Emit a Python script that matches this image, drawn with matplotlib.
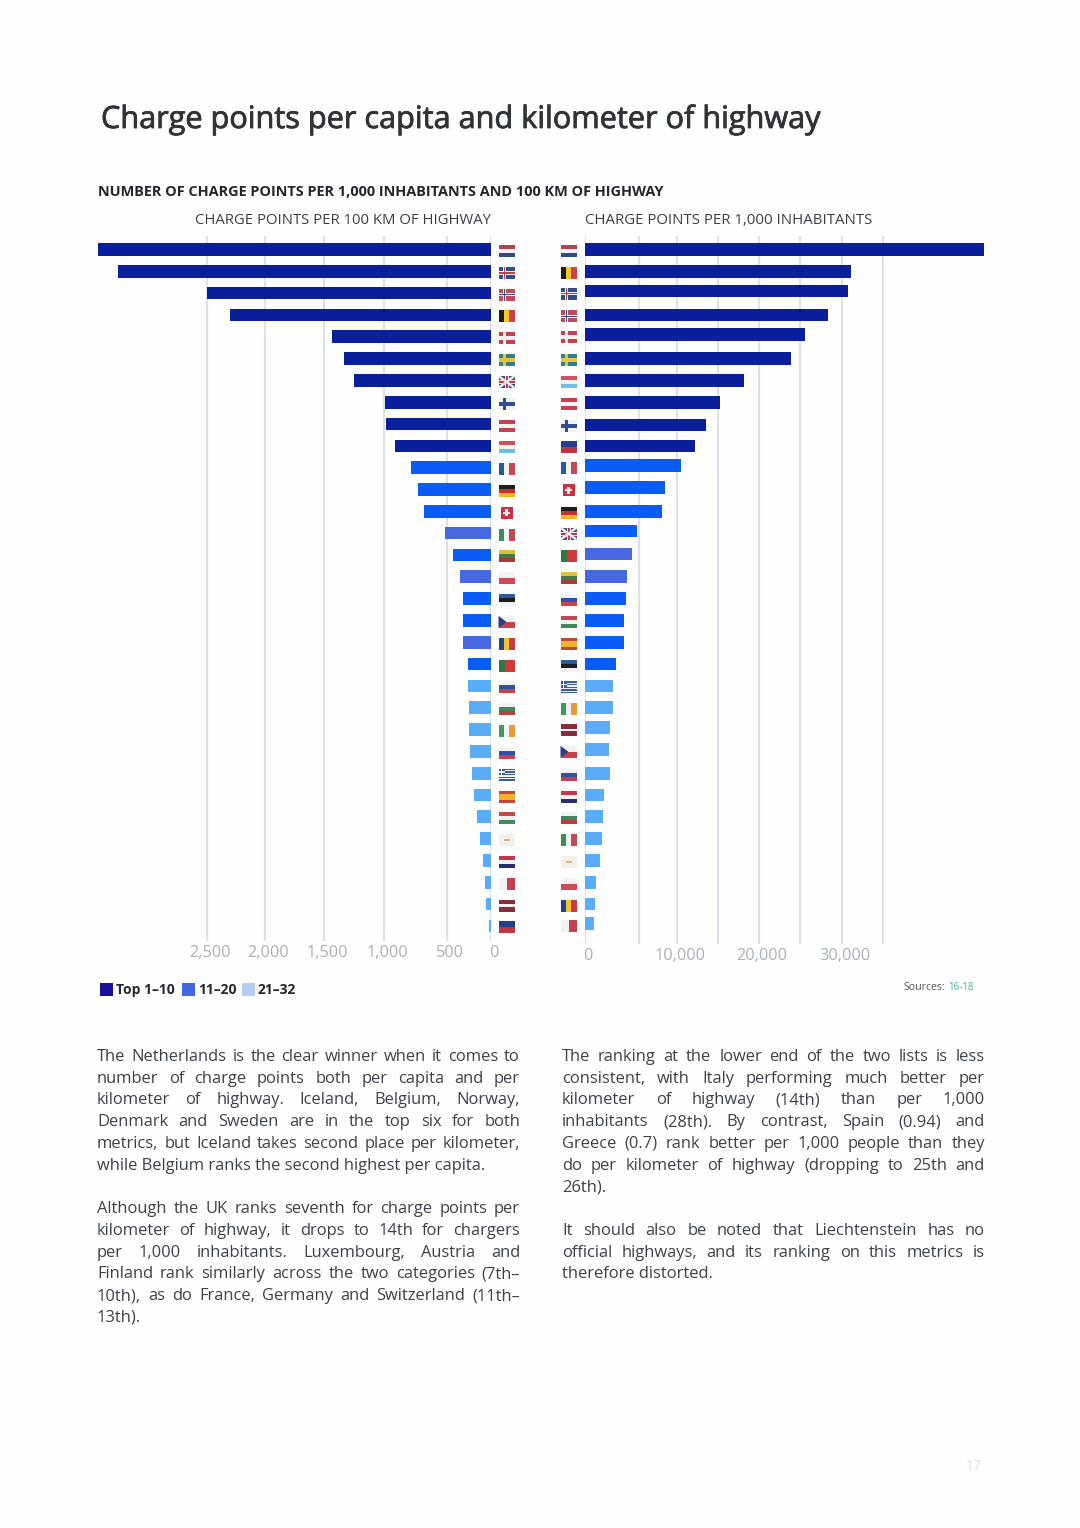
# charge points per 100 km of highway / per 1,000 inhabitants, mirrored bars with flags

import numpy as np
import matplotlib
matplotlib.use('Agg')
import matplotlib.pyplot as plt
import matplotlib.patheffects as pe
from matplotlib.patches import Rectangle
from matplotlib.transforms import ScaledTranslation

plt.rcParams['font.family'] = ['Open Sans', 'DejaVu Sans']

left_countries = ['NL', 'IS', 'NO', 'BE', 'DK', 'SE', 'UK', 'FI', 'AT', 'LU', 'FR', 'DE', 'CH', 'IT', 'LT', 'PL',
                  'EE', 'CZ', 'RO', 'PT', 'SK', 'BG', 'IE', 'SI', 'GR', 'ES', 'HU', 'CY', 'HR', 'MT', 'LV', 'LI']
left_values = [3437, 3267, 2500, 2302, 1436, 1336, 1248, 994, 981, 910, 788, 730, 683, 513, 435, 349,
               315, 315, 315, 265, 258, 247, 247, 235, 212, 193, 159, 125, 91, 72, 57, 26]
left_tiers = ['d'] * 10 + ['b', 'b', 'b', 'p', 'b', 'p', 'b', 'b', 'p', 'b'] + ['l'] * 12

right_countries = ['NL', 'BE', 'IS', 'NO', 'DK', 'SE', 'LU', 'AT', 'FI', 'LI', 'FR', 'CH', 'DE', 'UK', 'PT', 'LT',
                   'SI', 'HU', 'ES', 'EE', 'GR', 'IE', 'LV', 'CZ', 'SK', 'HR', 'BG', 'IT', 'CY', 'PL', 'RO', 'MT']
right_values = [47317, 31098, 30732, 28333, 25595, 23902, 18171, 15244, 13537, 12195, 10488, 8421, 8026, 4787, 4352, 3917,
                3796, 3639, 3639, 2898, 2620, 2620, 2315, 2194, 2315, 1759, 1667, 1602, 1389, 1019, 954, 861]
right_tiers = ['d'] * 10 + ['b', 'b', 'b', 'b', 'p', 'p', 'b', 'b', 'b', 'b'] + ['l'] * 12

left_ticks = [0, 500, 1000, 1500, 2000, 2500]
left_ticklabels = ['0', '500', '1,000', '1,500', '2,000', '2,500']
right_ticks = [0, 5000, 10000, 15000, 20000, 25000, 30000, 35000]
right_ticklabels = ['0', '', '10,000', '', '20,000', '', '30,000', '']

tier_colors = {'d': '#0b1f9c', 'b': '#0a5cf6', 'p': '#4668e0', 'l': '#5bacf8'}
legend_labels = ['Top 1–10', '11–20', '21–32']
legend_colors = ['#1a0f9a', '#4169e1', '#b5cdf5']

left_paragraphs = [
    ['The Netherlands is the clear winner when it comes to',
     'number of charge points both per capita and per',
     'kilometer of highway. Iceland, Belgium, Norway,',
     'Denmark and Sweden are in the top six for both',
     'metrics, but Iceland takes second place per kilometer,',
     'while Belgium ranks the second highest per capita.'],
    ['Although the UK ranks seventh for charge points per',
     'kilometer of highway, it drops to 14th for chargers',
     'per 1,000 inhabitants. Luxembourg, Austria and',
     'Finland rank similarly across the two categories (7th–',
     '10th), as do France, Germany and Switzerland (11th–',
     '13th).'],
]
right_paragraphs = [
    ['The ranking at the lower end of the two lists is less',
     'consistent, with Italy performing much better per',
     'kilometer of highway (14th) than per 1,000',
     'inhabitants (28th). By contrast, Spain (0.94) and',
     'Greece (0.7) rank better per 1,000 people than they',
     'do per kilometer of highway (dropping to 25th and',
     '26th).'],
    ['It should also be noted that Liechtenstein has no',
     'official highways, and its ranking on this metrics is',
     'therefore distorted.'],
]

# kind, colours, stripe weights
flag_styles = {
    'NL': ('h', ['#b5404f', '#f2f2f2', '#2d4a86'], [1, 1, 1]),
    'LU': ('h', ['#d0525c', '#f2f2f2', '#6cc0e0'], [1, 1, 1]),
    'AT': ('h', ['#c8404f', '#f2f2f2', '#c8404f'], [1, 1, 1]),
    'DE': ('h', ['#1c1c1c', '#c8302c', '#f0b820'], [1, 1, 1]),
    'LT': ('h', ['#d8c040', '#3f7d4a', '#a83a3a'], [1, 1, 1]),
    'PL': ('h', ['#f2f2f2', '#d04a55'], [1, 1]),
    'EE': ('h', ['#2d5a9a', '#1c1c1c', '#f2f2f2'], [1, 1, 1]),
    'BG': ('h', ['#f2f2f2', '#3f8a5c', '#b8403c'], [1, 1, 1]),
    'HU': ('h', ['#c04a50', '#f2f2f2', '#3f8a5c'], [1, 1, 1]),
    'SI': ('h', ['#f2f2f2', '#3050b0', '#d0404a'], [1, 1, 1]),
    'SK': ('h', ['#f2f2f2', '#3050a0', '#c8404a'], [1, 1, 1]),
    'HR': ('h', ['#c03a48', '#f2f2f2', '#27306e'], [1, 1, 1]),
    'LV': ('h', ['#8a2c3c', '#f2f2f2', '#8a2c3c'], [2, 1, 2]),
    'LI': ('h', ['#23408a', '#c0343f'], [1, 1]),
    'ES': ('h', ['#c0483a', '#eab52c', '#c0483a'], [1, 2, 1]),
    'BE': ('v', ['#1c1c1c', '#f2c42c', '#d0404a'], [1, 1, 1]),
    'FR': ('v', ['#2a5a96', '#f2f2f2', '#c04a55'], [1, 1, 1]),
    'IT': ('v', ['#3f8a5c', '#f2f2f2', '#c04a55'], [1, 1, 1]),
    'IE': ('v', ['#3f9a5c', '#f2f2f2', '#e89a3c'], [1, 1, 1]),
    'RO': ('v', ['#26408e', '#f2c42c', '#c83a40'], [1, 1, 1]),
    'PT': ('v', ['#2a7a40', '#d0383c'], [2, 3]),
    'MT': ('v', ['#f2f2f2', '#c8404f'], [1, 1]),
    'CY': ('h', ['#f3f1ea'], [1]),
    'IS': ('x', ['#2f4f8e', '#f2f2f2', '#c0404a']),
    'NO': ('x', ['#c24a55', '#f2f2f2', '#2f4f8e']),
    'DK': ('x', ['#c8404f', '#f2f2f2', '#f2f2f2']),
    'SE': ('x', ['#3a7a8a', '#e0c63c', '#e0c63c']),
    'FI': ('x', ['#f2f2f2', '#2f4f8e', '#2f4f8e']),
}

# the right hand rows sit a little off the regular spacing in the original (pixels)
right_nudge = [0, 0, -2, 0, -2, 0, 0, 0, 1, 0, -2, -2, 0, -2, -1, 0,
               0, 0, 0, 0, 0, 0, -2, -2, 0, 0, 0, 0, 0, 0, 0, -2.5]


def row_px(i):
    return 249.5 + 21.82 * i


def px_scale(values, pixels):
    # ticks on the original axes are not evenly spaced, so go through a piecewise scale
    forward = lambda v: np.interp(v, values, pixels)
    inverse = lambda p: np.interp(p, pixels, values)
    return forward, inverse


def panel(x0, x1, xlim, stops, stop_px, countries, vals, tiers, ticks, labels, top, bottom, nudge=None):
    ax = fig.add_axes([x0 / W, 1 - bottom / H, (x1 - x0) / W, (bottom - top) / H])
    ax.set_xscale('function', functions=px_scale(stops, stop_px))
    rows = np.arange(len(countries), dtype=float)
    if nudge is not None:
        rows = rows + np.array(nudge) / 21.82
    ax.barh(rows, vals, height=0.58, color=[tier_colors[t] for t in tiers], zorder=3)
    ax.set_xlim(*xlim)
    ax.set_ylim((bottom - 249.5) / 21.82, (top - 249.5) / 21.82)
    ax.set_xticks(ticks)
    ax.set_xticklabels(labels, fontsize=11.7, color='#a9b0ba')
    ax.minorticks_off()
    ax.set_yticks([])
    ax.tick_params(axis='x', length=0, pad=3)
    ax.grid(axis='x', color='#dde2ea', lw=1.6, zorder=0)
    ax.patch.set_alpha(0)
    # labels sit slightly right of their gridlines
    shift = ScaledTranslation(3 / 100, 0, fig.dpi_scale_trans)
    for lab in ax.get_xticklabels():
        lab.set_transform(lab.get_transform() + shift)
    for s in ax.spines.values():
        s.set_visible(False)
    return ax


def put_fit(x0, x1, y, s, size, **kw):
    # scale the font so the string spans the same width as in the reference
    t = page.text(x0, y, s, fontsize=size, va='center', ha='left', **kw)
    width = t.get_window_extent(renderer).width
    t.set_fontsize(size * (x1 - x0) / width)
    return t


def justified(x0, x1, y, line, fill, size=11.9, color='#3c4248'):
    if not fill:
        page.text(x0, y, line, fontsize=size, color=color, va='center', ha='left')
        return
    words = line.split(' ')
    widths = []
    for w in words:
        t = page.text(0, 0, w, fontsize=size)
        widths.append(t.get_window_extent(renderer).width)
        t.remove()
    gap = (x1 - x0 - sum(widths)) / max(len(words) - 1, 1)
    x = x0
    for w, wd in zip(words, widths):
        page.text(x, y, w, fontsize=size, color=color, va='center', ha='left')
        x += wd + gap


def column(x0, x1, paragraphs):
    y = 1057
    for para in paragraphs:
        for i, line in enumerate(para):
            justified(x0, x1, y, line, i < len(para) - 1)
            y += 21.75
        y += 21.75


def draw_flag(code, cx, cy):
    w, h = 16, 12
    x0, y0 = cx - w / 2, cy - h / 2
    def rect(x, y, wd, ht, c):
        page.add_patch(Rectangle((x, y), wd, ht, fc=c, ec='none', zorder=5))
    if code == 'CH':
        rect(cx - 6, cy - 6, 12, 12, '#cc3040')
        rect(cx - 1.2, cy - 3.5, 2.4, 7, '#f5f5f5')
        rect(cx - 3.5, cy - 1.2, 7, 2.4, '#f5f5f5')
        return
    if code == 'UK':
        rect(x0, y0, w, h, '#3a4a80')
        page.plot([x0, x0 + w], [y0, y0 + h], color='#f0e8e8', lw=1.8, zorder=6, solid_capstyle='butt')
        page.plot([x0, x0 + w], [y0 + h, y0], color='#f0e8e8', lw=1.8, zorder=6, solid_capstyle='butt')
        rect(cx - 2, y0, 4, h, '#f0e8e8')
        rect(x0, cy - 2, w, 4, '#f0e8e8')
        rect(cx - 1, y0, 2, h, '#b83a48')
        rect(x0, cy - 1, w, 2, '#b83a48')
        return
    if code == 'GR':
        for k in range(9):
            rect(x0, y0 + k * h / 9, w, h / 9, '#3f5a9e' if k % 2 == 0 else '#f0f0f0')
        rect(x0, y0, 6.5, 6.5, '#3f5a9e')
        rect(x0 + 2.5, y0, 1.4, 6.5, '#f0f0f0')
        rect(x0, y0 + 2.5, 6.5, 1.4, '#f0f0f0')
        return
    if code == 'CZ':
        rect(x0, y0, w, h / 2, '#f2f2f2')
        rect(x0, cy, w, h / 2, '#c8404a')
        page.add_patch(plt.Polygon([(x0, y0), (cx, cy), (x0, y0 + h)], fc='#2a3f80', ec='none', zorder=6))
        return
    style = flag_styles[code]
    if style[0] == 'x':
        bg, cross, inner = style[1]
        rect(x0, y0, w, h, bg)
        rect(x0 + 4, y0, 3.6, h, cross)
        rect(x0, cy - 1.8, w, 3.6, cross)
        rect(x0 + 5, y0, 1.6, h, inner)
        rect(x0, cy - 0.8, w, 1.6, inner)
        return
    total = sum(style[2])
    pos = 0
    for c, wt in zip(style[1], style[2]):
        if style[0] == 'h':
            rect(x0, y0 + pos * h, w, h * wt / total, c)
        else:
            rect(x0 + pos * w, y0, w * wt / total, h, c)
        pos += wt / total
    if code == 'CY':
        rect(cx - 3, cy - 1, 6, 2, '#d8b878')


W, H = 1080, 1528
fig = plt.figure(figsize=(W / 100, H / 100), dpi=100, facecolor='#fefefe')
renderer = fig.canvas.get_renderer()

page = fig.add_axes([0, 0, 1, 1], zorder=5)
page.set_xlim(0, W)
page.set_ylim(H, 0)
page.axis('off')

panel(98, 491, (3437, 0), left_ticks + [4000], [0, 44, 107, 167, 226, 284, 458],
      left_countries, left_values, left_tiers, left_ticks, left_ticklabels, 236, 941)
panel(585, 984, (0, 47317), right_ticks + [60000], [0, 54, 92, 133, 174, 215, 257, 298, 503],
      right_countries, right_values, right_tiers, right_ticks, right_ticklabels, 236, 944, nudge=right_nudge)

for i, c in enumerate(left_countries):
    draw_flag(c, 506.5, row_px(i) + 1.5)
for i, c in enumerate(right_countries):
    draw_flag(c, 568.5, row_px(i) + 1.5 + right_nudge[i] / 2)

title = put_fit(101, 821, 119.5, 'Charge points per capita and kilometer of highway', 21, color='#2f3439')
title.set_path_effects([pe.withStroke(linewidth=0.6, foreground='#2f3439')])
put_fit(98, 668, 192, 'NUMBER OF CHARGE POINTS PER 1,000 INHABITANTS AND 100 KM OF HIGHWAY', 9,
        color='#23272b', fontweight='bold')
put_fit(195, 492, 221, 'CHARGE POINTS PER 100 KM OF HIGHWAY', 9, color='#3a3f44')
put_fit(585, 872, 221, 'CHARGE POINTS PER 1,000 INHABITANTS', 9, color='#3a3f44')

for x, txt_x, label, col in zip([100, 182, 242], [116, 198, 258], legend_labels, legend_colors):
    page.add_patch(Rectangle((x, 983), 13, 13, fc=col, ec='none'))
    page.text(txt_x, 990, label, fontsize=10, fontweight='bold', color='#24282c', va='center', ha='left')

page.text(903, 987.5, 'Sources:', fontsize=7.6, color='#50565c', va='center', ha='left')
page.text(948, 987.5, '16-18', fontsize=7, color='#35b89a', va='center', ha='left')

column(97, 520, left_paragraphs)
column(562, 985, right_paragraphs)

page.text(974, 1466, '17', fontsize=10, color='#dde0e4', va='center', ha='center')

fig.savefig('out.png', dpi=100, facecolor=fig.get_facecolor())
